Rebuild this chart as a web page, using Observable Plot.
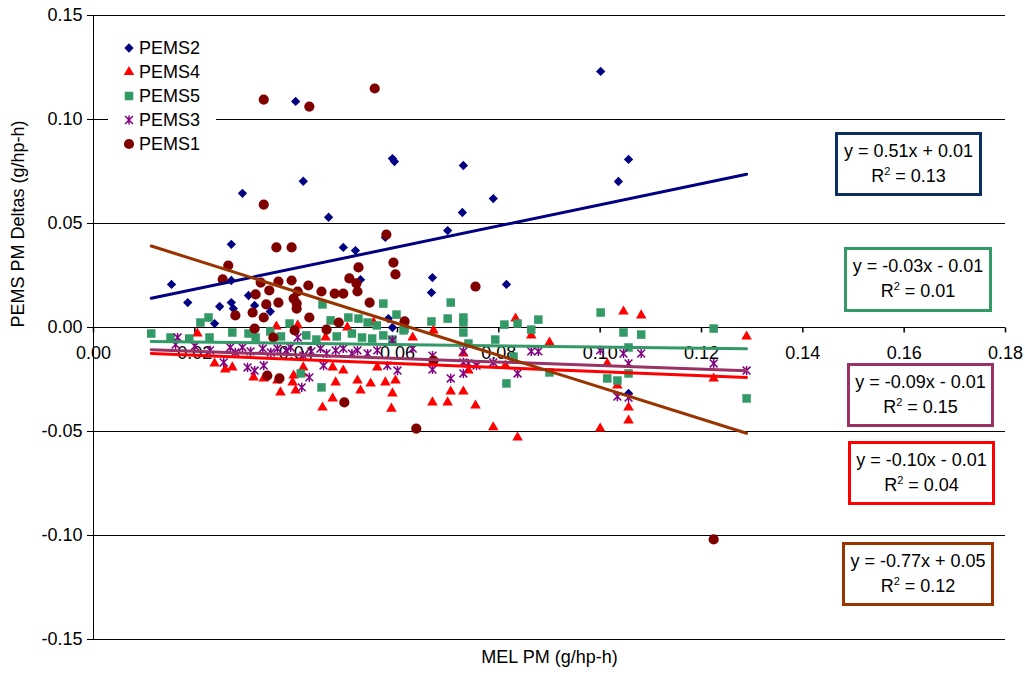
<!DOCTYPE html>
<html>
<head>
<meta charset="utf-8">
<script src="https://cdn.jsdelivr.net/npm/d3@7"></script>
<script src="https://cdn.jsdelivr.net/npm/@observablehq/plot@0.6"></script>
<style>
  body { margin: 0; background: #fff; font-family: "Liberation Sans", Arial, sans-serif; }
  #wrap { position: relative; width: 1025px; height: 681px; }
  .eq { position: absolute; box-sizing: border-box; background: #fff; border: 3px solid #000;
        text-align: center; font-size: 18px; line-height: 25px; padding-top: 4px; color: #000; }
  .eq sup { font-size: 11px; line-height: 0; vertical-align: 7px; }
  .legend { position: absolute; left: 108px; top: 32px; width: 108px; height: 126px; background: #fff; }
  .legend .row { position: absolute; left: 0; height: 24px; font-size: 18px; line-height: 24px; color: #000; }
  .legend svg { position: absolute; left: 14px; top: 5px; overflow: visible; }
  .legend span { position: absolute; left: 31px; top: 0; white-space: nowrap; }
</style>
</head>
<body>
<div id="wrap"></div>
<script>
// Axis ticks
const xTicks = [0, 0.02, 0.04, 0.06, 0.08, 0.10, 0.12, 0.14, 0.16, 0.18];
const yTicks = [-0.15, -0.10, -0.05, 0, 0.05, 0.10, 0.15];

// Series, in drawing / legend order
const seriesNames = ["PEMS2", "PEMS4", "PEMS5", "PEMS3", "PEMS1"];

// [MEL PM, PEMS PM delta] pairs (g/hp-h)
const pems2 = [
  [0.0154,0.0207],[0.0186,0.0120],[0.0239,0.0019],[0.0249,0.0101],[0.0272,0.0400],[0.0272,0.0226],
  [0.0272,0.0120],[0.0276,0.0091],[0.0294,0.0645],[0.0306,0.0154],[0.0318,0.0106],[0.0349,0.0077],
  [0.0399,0.1087],[0.0414,0.0703],[0.0464,0.0530],[0.0493,0.0385],[0.0517,0.0370],[0.0527,0.0230],
  [0.0576,0.0433],[0.0582,0.0043],[0.0590,0.0812],[0.0594,0.0798],[0.0590,0.0000],[0.0667,0.0168],
  [0.0669,0.0240],[0.0699,0.0466],[0.0728,0.0553],[0.0730,0.0779],[0.0789,0.0620],[0.0815,0.0207],
  [0.1001,0.1231],[0.1036,0.0702],[0.1056,0.0808],[0.1056,-0.0317]
];
const pems4 = [
  [0.0205,-0.0029],[0.0239,-0.0173],[0.0260,-0.0202],[0.0274,-0.0192],[0.0316,-0.0240],[0.0336,-0.0245],
  [0.0361,0.0005],[0.0363,-0.0255],[0.0369,-0.0312],[0.0393,-0.0264],[0.0395,-0.0231],[0.0399,-0.0303],
  [0.0403,0.0010],[0.0412,-0.0221],[0.0414,-0.0192],[0.0452,-0.0385],[0.0458,-0.0048],[0.0472,-0.0341],
  [0.0472,-0.0192],[0.0478,-0.0264],[0.0493,-0.0207],[0.0501,0.0000],[0.0521,-0.0255],[0.0527,-0.0303],
  [0.0547,-0.0269],[0.0553,0.0024],[0.0560,-0.0192],[0.0576,-0.0264],[0.0588,-0.0390],[0.0590,-0.0317],
  [0.0596,-0.0255],[0.0630,-0.0048],[0.0669,-0.0360],[0.0671,-0.0014],[0.0699,-0.0360],[0.0705,-0.0308],
  [0.0730,-0.0308],[0.0730,-0.0125],[0.0740,-0.0207],[0.0754,-0.0375],[0.0789,-0.0480],[0.0813,-0.0183],
  [0.0833,0.0043],[0.0837,-0.0529],[0.0864,-0.0038],[0.0900,-0.0072],[0.1000,-0.0486],[0.1014,-0.0173],
  [0.1034,-0.0279],[0.1046,0.0077],[0.1056,-0.0385],[0.1056,-0.0447],[0.1081,0.0058],[0.1224,-0.0245],
  [0.1289,-0.0043]
];
const pems5 = [
  [0.0114,-0.0029],[0.0152,-0.0048],[0.0189,-0.0053],[0.0211,0.0024],[0.0227,0.0048],[0.0229,-0.0048],
  [0.0274,-0.0024],[0.0306,-0.0029],[0.0320,-0.0048],[0.0349,-0.0019],[0.0370,-0.0043],[0.0387,0.0019],
  [0.0409,-0.0221],[0.0420,-0.0038],[0.0440,-0.0058],[0.0450,-0.0288],[0.0452,0.0111],[0.0468,0.0034],
  [0.0480,-0.0043],[0.0503,0.0048],[0.0510,-0.0029],[0.0523,0.0043],[0.0530,-0.0048],[0.0541,0.0024],
  [0.0550,-0.0053],[0.0559,0.0010],[0.0572,0.0115],[0.0572,-0.0038],[0.0590,-0.0058],[0.0598,0.0062],
  [0.0612,-0.0014],[0.0614,-0.0005],[0.0667,0.0029],[0.0699,0.0043],[0.0705,0.0120],[0.0730,0.0048],
  [0.0730,0.0024],[0.0730,-0.0024],[0.0740,-0.0077],[0.0793,-0.0058],[0.0811,0.0014],[0.0815,-0.0269],
  [0.0829,-0.0140],[0.0837,0.0019],[0.0864,-0.0010],[0.0878,0.0038],[0.0900,-0.0216],[0.1001,0.0072],
  [0.1014,-0.0245],[0.1034,-0.0255],[0.1046,-0.0024],[0.1056,-0.0096],[0.1056,-0.0221],[0.1081,-0.0034],
  [0.1224,-0.0005],[0.1289,-0.0341]
];
const pems3 = [
  [0.0162,-0.0082],[0.0166,-0.0048],[0.0200,-0.0090],[0.0230,-0.0110],[0.0257,-0.0168],[0.0270,-0.0096],
  [0.0280,-0.0120],[0.0294,-0.0096],[0.0304,-0.0192],[0.0310,-0.0115],[0.0318,-0.0207],[0.0334,-0.0101],
  [0.0336,-0.0183],[0.0350,-0.0120],[0.0363,-0.0101],[0.0380,-0.0110],[0.0389,-0.0096],[0.0403,-0.0048],
  [0.0411,-0.0288],[0.0414,-0.0135],[0.0426,-0.0240],[0.0430,-0.0115],[0.0448,-0.0101],[0.0454,-0.0183],
  [0.0460,-0.0125],[0.0478,-0.0110],[0.0493,-0.0101],[0.0510,-0.0125],[0.0521,-0.0110],[0.0541,-0.0125],
  [0.0560,-0.0110],[0.0580,-0.0183],[0.0590,-0.0062],[0.0600,-0.0207],[0.0630,-0.0101],[0.0669,-0.0135],
  [0.0669,-0.0202],[0.0705,-0.0245],[0.0730,-0.0115],[0.0730,-0.0168],[0.0730,-0.0221],[0.0740,-0.0173],
  [0.0756,-0.0183],[0.0789,-0.0168],[0.0837,-0.0221],[0.0864,-0.0115],[0.0878,-0.0115],[0.1000,-0.0110],
  [0.1034,-0.0332],[0.1046,-0.0125],[0.1056,-0.0173],[0.1056,-0.0337],[0.1081,-0.0125],[0.1224,-0.0173],
  [0.1289,-0.0207]
];
const pems1 = [
  [0.0255,0.0231],[0.0266,0.0298],[0.0280,0.0058],[0.0314,0.0072],[0.0318,-0.0005],[0.0320,0.0159],
  [0.0330,0.0216],[0.0336,0.1096],[0.0336,0.0591],[0.0336,0.0048],[0.0341,0.0111],[0.0343,-0.0231],
  [0.0347,0.0178],[0.0355,-0.0048],[0.0361,0.0385],[0.0365,0.0221],[0.0365,0.0120],[0.0367,-0.0245],
  [0.0391,0.0385],[0.0391,0.0226],[0.0395,0.0139],[0.0397,-0.0014],[0.0401,0.0115],[0.0401,0.0091],
  [0.0403,0.0173],[0.0424,0.0202],[0.0426,0.1062],[0.0426,0.0048],[0.0450,0.0173],[0.0460,-0.0010],
  [0.0476,0.0163],[0.0484,0.0024],[0.0493,0.0163],[0.0495,-0.0360],[0.0505,0.0236],[0.0519,0.0212],
  [0.0521,0.0173],[0.0523,0.0289],[0.0545,0.0120],[0.0555,0.1149],[0.0578,0.0447],[0.0592,0.0312],
  [0.0596,0.0255],[0.0614,0.0029],[0.0637,-0.0486],[0.0671,-0.0159],[0.0754,0.0197],[0.1224,-0.1019]
];

// Linear trend fits, per series (same order as seriesNames)
const slopes = [0.507, -0.098, -0.030, -0.086, -0.766];
const intercepts = [0.0083, -0.0114, -0.0064, -0.0097, 0.0479];
const rSquared = [0.13, 0.04, 0.01, 0.15, 0.12];

const xLabel = "MEL PM (g/hp-h)";
const yLabel = "PEMS PM Deltas (g/hp-h)";

// ---- styling ----
// six-armed star: an X crossed by a vertical stroke
const starSymbol = {
  draw(ctx, size) {
    const r = Math.sqrt(size / Math.PI), d = r * 0.85;
    ctx.moveTo(0, -r); ctx.lineTo(0, r);
    ctx.moveTo(-d, -d); ctx.lineTo(d, d);
    ctx.moveTo(-d, d); ctx.lineTo(d, -d);
  }
};
const seriesData = [pems2, pems4, pems5, pems3, pems1];
const markerColor = ["#000080", "#FF0000", "#339966", "#800080", "#800000"];
const markerSymbol = [d3.symbolDiamond2, d3.symbolTriangle, d3.symbolSquare, starSymbol, d3.symbolCircle];
const markerStroked = [false, false, false, true, false];
const markerR = [4.2, 3.9, 4.8, 4.6, 5.1];
const trendColor = ["#000080", "#FF0000", "#339966", "#993366", "#993300"];
const boxBorder = ["#0B2E63", "#FF0000", "#339966", "#993366", "#993300"];
const boxRect = { // left, top, width, height
  PEMS2: [835, 132, 147, 64],
  PEMS5: [844, 247, 148, 65],
  PEMS3: [847, 363, 147, 64],
  PEMS4: [848, 441, 147, 64],
  PEMS1: [842, 542, 152, 64]
};
const font = "'Liberation Sans', Arial, sans-serif";

const allX = seriesData.flat().map(d => d[0]);
const [xMin, xMax] = d3.extent(allX);

// a short downward stroke used for x-axis tick marks
const tickDown = { draw(ctx) { ctx.moveTo(0, 0); ctx.lineTo(0, 5); } };

const marks = [];
// horizontal gridlines (the 0 line doubles as the x axis)
marks.push(Plot.ruleY(yTicks, { stroke: "#000", strokeWidth: 1 }));
marks.push(Plot.ruleX([0], { stroke: "#000", strokeWidth: 1 }));
marks.push(Plot.axisY({ ticks: yTicks, tickFormat: d => d.toFixed(2), tickSize: 6, tickPadding: 5,
  fontSize: 18, label: null, stroke: "#000" }));
marks.push(Plot.dot(xTicks, { x: d => d, y: () => 0, symbol: tickDown, stroke: "#000", fill: "none", r: 3 }));

// x tick labels sit just under the zero line
marks.push(Plot.text(xTicks, { x: d => d, y: () => 0, text: d => d.toFixed(2), dy: 26, fontSize: 18, fill: "#000" }));

// scatter points
seriesData.forEach((data, i) => {
  const stroked = markerStroked[i];
  marks.push(Plot.dot(data, {
    x: d => d[0], y: d => d[1], symbol: markerSymbol[i], r: markerR[i],
    fill: stroked ? "none" : markerColor[i],
    stroke: stroked ? markerColor[i] : "none",
    strokeWidth: stroked ? 1.5 : 0
  }));
});

// trend lines from the fitted coefficients, across the data's x range
seriesData.forEach((data, i) => {
  const pts = [xMin, xMax].map(x => ({ x, y: slopes[i] * x + intercepts[i] }));
  marks.push(Plot.line(pts, { x: "x", y: "y", stroke: trendColor[i], strokeWidth: 3 }));
});

// axis titles
marks.push(Plot.text([xLabel], { frameAnchor: "bottom", dy: 23, fontSize: 18, fill: "#000" }));
marks.push(Plot.text([yLabel], { frameAnchor: "left", dx: -75, rotate: -90, fontSize: 18, fill: "#000" }));

const chart = Plot.plot({
  width: 1025, height: 681,
  marginLeft: 93, marginRight: 20, marginTop: 15, marginBottom: 42,
  x: { domain: [0, 0.18], axis: null },
  y: { domain: [-0.15, 0.15], axis: null },
  style: { fontFamily: font, fontSize: "18px", color: "#000", background: "#fff", overflow: "visible" },
  marks
});

const wrap = document.getElementById("wrap");
wrap.appendChild(chart);

// legend
const legend = document.createElement("div");
legend.className = "legend";
seriesNames.forEach((name, i) => {
  const row = document.createElement("div");
  row.className = "row";
  row.style.top = (i * 24 + 4) + "px";
  const stroked = markerStroked[i];
  const path = d3.symbol(markerSymbol[i], Math.PI * markerR[i] * markerR[i])();
  row.innerHTML = `<svg width="14" height="14" viewBox="-7 -7 14 14"><path d="${path}" fill="${stroked ? "none" : markerColor[i]}" stroke="${stroked ? markerColor[i] : "none"}" stroke-width="1.5"/></svg><span>${name}</span>`;
  legend.appendChild(row);
});
wrap.appendChild(legend);

// regression equation boxes
const fmtEq = (m, b) => `y = ${m.toFixed(2)}x ${b < 0 ? "-" : "+"} ${Math.abs(b).toFixed(2)}`;
seriesNames.forEach((name, i) => {
  const [l, t, w, h] = boxRect[name];
  const box = document.createElement("div");
  box.className = "eq";
  Object.assign(box.style, { left: l + "px", top: t + "px", width: w + "px", height: h + "px", borderColor: boxBorder[i] });
  box.innerHTML = `<div>${fmtEq(slopes[i], intercepts[i])}</div><div>R<sup>2</sup> = ${rSquared[i].toFixed(2)}</div>`;
  wrap.appendChild(box);
});
</script>
</body>
</html>
